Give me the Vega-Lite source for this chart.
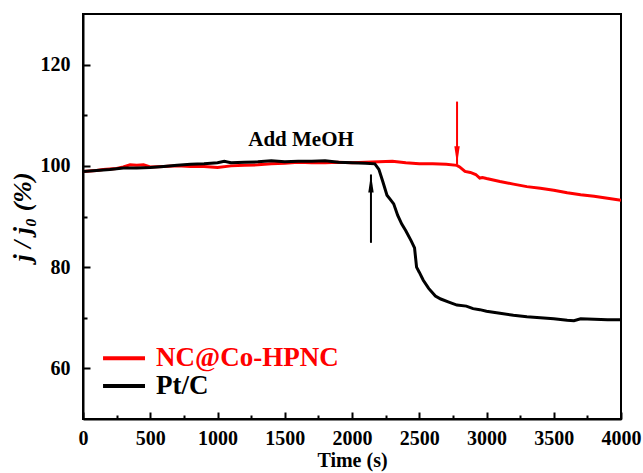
{
  "$schema": "https://vega.github.io/schema/vega-lite/v6.json",
  "autosize": "none",
  "width": 538,
  "height": 405,
  "padding": {"left": 83, "top": 14, "right": 22, "bottom": 54},
  "background": "white",
  "config": {
    "view": {"stroke": "black", "strokeWidth": 2},
    "axis": {
      "grid": false,
      "domainColor": "black",
      "domainWidth": 2,
      "tickColor": "black",
      "tickWidth": 2,
      "labelFont": "Liberation Serif",
      "labelFontWeight": "bold",
      "labelFontSize": 20,
      "labelColor": "black",
      "titleFont": "Liberation Serif",
      "titleFontWeight": "bold",
      "titleColor": "black"
    }
  },
  "resolve": {"axis": {"x": "independent", "y": "independent"}},
  "datasets": {
    "curves": [
      {"t": 0, "v": 98.9, "s": "NC@Co-HPNC"},
      {"t": 50, "v": 99.0, "s": "NC@Co-HPNC"},
      {"t": 100, "v": 99.1, "s": "NC@Co-HPNC"},
      {"t": 150, "v": 99.3, "s": "NC@Co-HPNC"},
      {"t": 200, "v": 99.4, "s": "NC@Co-HPNC"},
      {"t": 250, "v": 99.5, "s": "NC@Co-HPNC"},
      {"t": 300, "v": 99.8, "s": "NC@Co-HPNC"},
      {"t": 350, "v": 100.2, "s": "NC@Co-HPNC"},
      {"t": 400, "v": 100.1, "s": "NC@Co-HPNC"},
      {"t": 450, "v": 100.2, "s": "NC@Co-HPNC"},
      {"t": 500, "v": 99.8, "s": "NC@Co-HPNC"},
      {"t": 600, "v": 99.9, "s": "NC@Co-HPNC"},
      {"t": 700, "v": 100.0, "s": "NC@Co-HPNC"},
      {"t": 800, "v": 99.9, "s": "NC@Co-HPNC"},
      {"t": 900, "v": 99.9, "s": "NC@Co-HPNC"},
      {"t": 1000, "v": 99.7, "s": "NC@Co-HPNC"},
      {"t": 1100, "v": 100.0, "s": "NC@Co-HPNC"},
      {"t": 1200, "v": 100.1, "s": "NC@Co-HPNC"},
      {"t": 1300, "v": 100.2, "s": "NC@Co-HPNC"},
      {"t": 1400, "v": 100.4, "s": "NC@Co-HPNC"},
      {"t": 1500, "v": 100.5, "s": "NC@Co-HPNC"},
      {"t": 1600, "v": 100.7, "s": "NC@Co-HPNC"},
      {"t": 1700, "v": 100.6, "s": "NC@Co-HPNC"},
      {"t": 1800, "v": 100.6, "s": "NC@Co-HPNC"},
      {"t": 1900, "v": 100.7, "s": "NC@Co-HPNC"},
      {"t": 2000, "v": 100.6, "s": "NC@Co-HPNC"},
      {"t": 2100, "v": 100.7, "s": "NC@Co-HPNC"},
      {"t": 2200, "v": 100.8, "s": "NC@Co-HPNC"},
      {"t": 2300, "v": 100.9, "s": "NC@Co-HPNC"},
      {"t": 2400, "v": 100.6, "s": "NC@Co-HPNC"},
      {"t": 2500, "v": 100.4, "s": "NC@Co-HPNC"},
      {"t": 2600, "v": 100.4, "s": "NC@Co-HPNC"},
      {"t": 2700, "v": 100.3, "s": "NC@Co-HPNC"},
      {"t": 2780, "v": 100.1, "s": "NC@Co-HPNC"},
      {"t": 2800, "v": 99.8, "s": "NC@Co-HPNC"},
      {"t": 2840, "v": 98.9, "s": "NC@Co-HPNC"},
      {"t": 2880, "v": 98.7, "s": "NC@Co-HPNC"},
      {"t": 2920, "v": 98.3, "s": "NC@Co-HPNC"},
      {"t": 2950, "v": 97.6, "s": "NC@Co-HPNC"},
      {"t": 2970, "v": 97.7, "s": "NC@Co-HPNC"},
      {"t": 3000, "v": 97.5, "s": "NC@Co-HPNC"},
      {"t": 3100, "v": 96.9, "s": "NC@Co-HPNC"},
      {"t": 3200, "v": 96.4, "s": "NC@Co-HPNC"},
      {"t": 3300, "v": 95.9, "s": "NC@Co-HPNC"},
      {"t": 3400, "v": 95.6, "s": "NC@Co-HPNC"},
      {"t": 3500, "v": 95.2, "s": "NC@Co-HPNC"},
      {"t": 3600, "v": 94.7, "s": "NC@Co-HPNC"},
      {"t": 3700, "v": 94.3, "s": "NC@Co-HPNC"},
      {"t": 3800, "v": 94.0, "s": "NC@Co-HPNC"},
      {"t": 3900, "v": 93.6, "s": "NC@Co-HPNC"},
      {"t": 4000, "v": 93.2, "s": "NC@Co-HPNC"},
      {"t": 0, "v": 98.9, "s": "Pt/C"},
      {"t": 100, "v": 99.1, "s": "Pt/C"},
      {"t": 200, "v": 99.3, "s": "Pt/C"},
      {"t": 300, "v": 99.6, "s": "Pt/C"},
      {"t": 400, "v": 99.6, "s": "Pt/C"},
      {"t": 500, "v": 99.7, "s": "Pt/C"},
      {"t": 600, "v": 99.9, "s": "Pt/C"},
      {"t": 700, "v": 100.1, "s": "Pt/C"},
      {"t": 800, "v": 100.3, "s": "Pt/C"},
      {"t": 900, "v": 100.4, "s": "Pt/C"},
      {"t": 1000, "v": 100.6, "s": "Pt/C"},
      {"t": 1050, "v": 100.9, "s": "Pt/C"},
      {"t": 1100, "v": 100.6, "s": "Pt/C"},
      {"t": 1200, "v": 100.7, "s": "Pt/C"},
      {"t": 1300, "v": 100.8, "s": "Pt/C"},
      {"t": 1400, "v": 101.0, "s": "Pt/C"},
      {"t": 1500, "v": 100.8, "s": "Pt/C"},
      {"t": 1600, "v": 100.9, "s": "Pt/C"},
      {"t": 1700, "v": 100.9, "s": "Pt/C"},
      {"t": 1800, "v": 101.0, "s": "Pt/C"},
      {"t": 1900, "v": 100.7, "s": "Pt/C"},
      {"t": 2000, "v": 100.6, "s": "Pt/C"},
      {"t": 2100, "v": 100.5, "s": "Pt/C"},
      {"t": 2170, "v": 100.4, "s": "Pt/C"},
      {"t": 2200, "v": 99.3, "s": "Pt/C"},
      {"t": 2230, "v": 96.8, "s": "Pt/C"},
      {"t": 2260, "v": 94.2, "s": "Pt/C"},
      {"t": 2290, "v": 93.2, "s": "Pt/C"},
      {"t": 2310, "v": 92.5, "s": "Pt/C"},
      {"t": 2340, "v": 90.2, "s": "Pt/C"},
      {"t": 2370, "v": 88.5, "s": "Pt/C"},
      {"t": 2400, "v": 87.2, "s": "Pt/C"},
      {"t": 2440, "v": 85.2, "s": "Pt/C"},
      {"t": 2465, "v": 83.8, "s": "Pt/C"},
      {"t": 2480, "v": 80.0, "s": "Pt/C"},
      {"t": 2500, "v": 79.0, "s": "Pt/C"},
      {"t": 2530, "v": 77.4, "s": "Pt/C"},
      {"t": 2570, "v": 75.8, "s": "Pt/C"},
      {"t": 2620, "v": 74.3, "s": "Pt/C"},
      {"t": 2660, "v": 73.7, "s": "Pt/C"},
      {"t": 2720, "v": 73.1, "s": "Pt/C"},
      {"t": 2780, "v": 72.5, "s": "Pt/C"},
      {"t": 2850, "v": 72.3, "s": "Pt/C"},
      {"t": 2900, "v": 71.8, "s": "Pt/C"},
      {"t": 2950, "v": 71.6, "s": "Pt/C"},
      {"t": 3000, "v": 71.3, "s": "Pt/C"},
      {"t": 3100, "v": 70.9, "s": "Pt/C"},
      {"t": 3200, "v": 70.5, "s": "Pt/C"},
      {"t": 3300, "v": 70.2, "s": "Pt/C"},
      {"t": 3400, "v": 70.0, "s": "Pt/C"},
      {"t": 3500, "v": 69.8, "s": "Pt/C"},
      {"t": 3600, "v": 69.5, "s": "Pt/C"},
      {"t": 3650, "v": 69.4, "s": "Pt/C"},
      {"t": 3700, "v": 69.8, "s": "Pt/C"},
      {"t": 3800, "v": 69.7, "s": "Pt/C"},
      {"t": 3900, "v": 69.6, "s": "Pt/C"},
      {"t": 4000, "v": 69.6, "s": "Pt/C"}
    ],
    "arrows": [
      {"s": "Pt/C", "t": 2141, "tail": 84.8, "tip": 98.3, "dir": "up"},
      {"s": "NC@Co-HPNC", "t": 2781, "tail": 112.7, "tip": 100.3, "dir": "down"}
    ],
    "legend": [
      {"s": "NC@Co-HPNC", "x1": 149, "x2": 461, "xt": 543, "y": 62.0},
      {"s": "Pt/C", "x1": 149, "x2": 461, "xt": 543, "y": 56.5}
    ],
    "notes": [
      {"label": "Add MeOH", "t": 1621, "v": 105.2}
    ]
  },
  "layer": [
    {
      "data": {"name": "curves"},
      "mark": {"type": "line", "strokeWidth": 3, "clip": true},
      "encoding": {
        "x": {
          "field": "t", "type": "quantitative",
          "scale": {"domain": [0, 4000], "nice": false},
          "axis": {
            "orient": "bottom",
            "title": "Time (s)",
            "titleFontSize": 20,
            "titlePadding": 2,
            "values": [0, 500, 1000, 1500, 2000, 2500, 3000, 3500, 4000],
            "labelFlush": false,
            "labelOverlap": false,
            "format": "d",
            "tickSize": -7,
            "labelPadding": 16
          }
        },
        "y": {
          "field": "v", "type": "quantitative",
          "scale": {"domain": [50, 130], "nice": false, "zero": false},
          "axis": {
            "orient": "left",
            "title": "j / j₀ (%)",
            "titleFontSize": 26,
            "titleFontStyle": "italic",
            "titlePadding": 5,
            "values": [60, 80, 100, 120],
            "labelOverlap": false,
            "tickSize": -7,
            "labelPadding": 20
          }
        },
        "color": {
          "field": "s", "type": "nominal",
          "scale": {"domain": ["NC@Co-HPNC", "Pt/C"], "range": ["#ff0000", "#000000"]},
          "legend": null
        },
        "detail": {"field": "s"}
      }
    },
    {
      "data": {"name": "arrows"},
      "mark": {"type": "rule", "strokeWidth": 2},
      "encoding": {
        "x": {
          "field": "t", "type": "quantitative",
          "axis": {
            "orient": "bottom",
            "title": null,
            "domain": false,
            "labels": false,
            "values": [250, 750, 1250, 1750, 2250, 2750, 3250, 3750],
            "tickSize": -4
          }
        },
        "y": {
          "field": "tail", "type": "quantitative",
          "axis": {
            "orient": "left",
            "title": null,
            "domain": false,
            "labels": false,
            "values": [70, 90, 110],
            "tickSize": -4
          }
        },
        "y2": {"field": "tip"},
        "color": {"field": "s", "type": "nominal", "legend": null}
      }
    },
    {
      "data": {"name": "arrows"},
      "transform": [{"filter": "datum.dir === 'up'"}],
      "mark": {"type": "point", "filled": true, "opacity": 1, "size": 324, "shape": "M0,0L-0.3,2L0.3,2Z"},
      "encoding": {
        "x": {"field": "t", "type": "quantitative", "axis": null},
        "y": {"field": "tip", "type": "quantitative", "axis": null},
        "color": {"field": "s", "type": "nominal", "legend": null}
      }
    },
    {
      "data": {"name": "arrows"},
      "transform": [{"filter": "datum.dir === 'down'"}],
      "mark": {"type": "point", "filled": true, "opacity": 1, "size": 324, "shape": "M0,0L-0.3,-2L0.3,-2Z"},
      "encoding": {
        "x": {"field": "t", "type": "quantitative", "axis": null},
        "y": {"field": "tip", "type": "quantitative", "axis": null},
        "color": {"field": "s", "type": "nominal", "legend": null}
      }
    },
    {
      "data": {"name": "legend"},
      "mark": {"type": "rule", "strokeWidth": 4},
      "encoding": {
        "x": {"field": "x1", "type": "quantitative", "axis": null},
        "x2": {"field": "x2"},
        "y": {"field": "y", "type": "quantitative", "axis": null},
        "color": {"field": "s", "type": "nominal", "legend": null}
      }
    },
    {
      "data": {"name": "legend"},
      "mark": {"type": "text", "align": "left", "baseline": "middle", "font": "Liberation Serif", "fontWeight": "bold", "fontSize": 27},
      "encoding": {
        "x": {"field": "xt", "type": "quantitative", "axis": null},
        "y": {"field": "y", "type": "quantitative", "axis": null},
        "text": {"field": "s"},
        "color": {"field": "s", "type": "nominal", "legend": null}
      }
    },
    {
      "data": {"name": "notes"},
      "mark": {"type": "text", "align": "center", "baseline": "middle", "font": "Liberation Serif", "fontWeight": "bold", "fontSize": 21, "color": "black"},
      "encoding": {
        "x": {"field": "t", "type": "quantitative", "axis": null},
        "y": {"field": "v", "type": "quantitative", "axis": null},
        "text": {"field": "label"}
      }
    }
  ]
}
